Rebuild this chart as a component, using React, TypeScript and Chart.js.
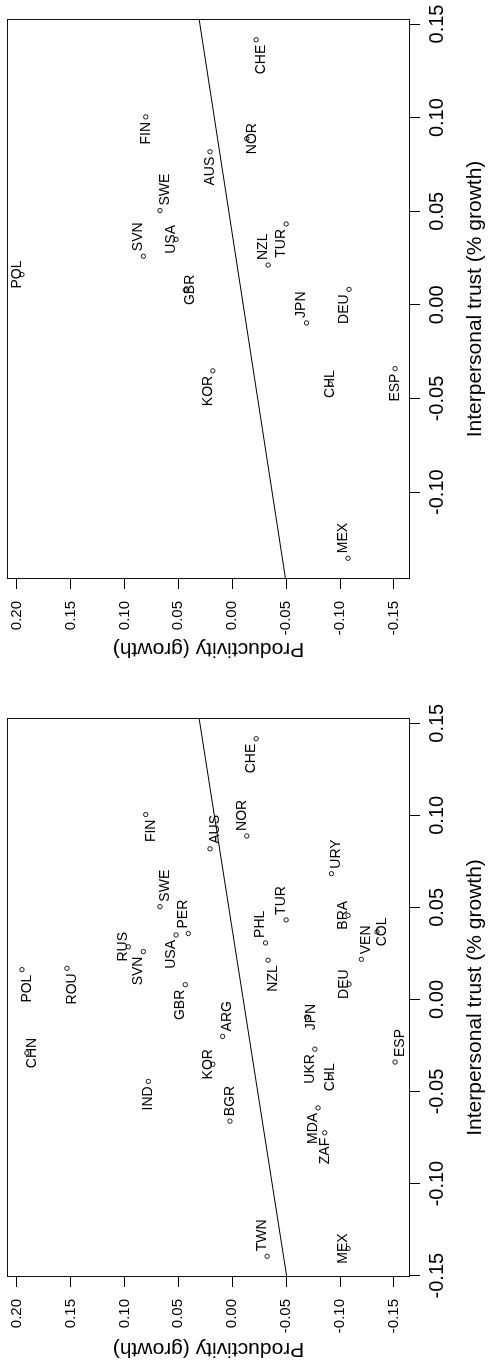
import React, { useEffect, useRef } from 'react';
import { Chart, registerables } from 'chart.js';

Chart.register(...registerables);

// ---- data ----
const countries = ['CHE','FIN','AUS','NOR','URY','SWE','PER','USA','RUS','SVN','PHL','TUR','BRA','VEN','COL','NZL','ROU','POL','CHN','GBR','ARG','KOR','IND','BGR','DEU','JPN','UKR','CHL','ESP','MDA','ZAF','TWN','MEX'];
const trustGrowth = [0.1416,0.1004,0.0818,0.0888,0.0683,0.0504,0.0358,0.0350,0.0286,0.0260,0.0307,0.0432,0.0457,0.0218,0.0367,0.0213,0.0169,0.0162,-0.0291,0.0080,-0.0201,-0.0352,-0.0445,-0.0661,0.0083,-0.0096,-0.0270,-0.0423,-0.0340,-0.0589,-0.0724,-0.1395,-0.1353];
const productivityGrowth = [-0.0222,0.0802,0.0206,-0.0135,-0.0920,0.0670,0.0407,0.0521,0.0963,0.0824,-0.0309,-0.0500,-0.1074,-0.1198,-0.1343,-0.0333,0.1533,0.1950,0.1904,0.0435,0.0089,0.0180,0.0778,0.0021,-0.1083,-0.0689,-0.0766,-0.0910,-0.1510,-0.0796,-0.0858,-0.0324,-0.1074];
const oecdCountries = ['CHE','FIN','AUS','NOR','SWE','USA','SVN','TUR','NZL','POL','GBR','KOR','DEU','JPN','CHL','ESP','MEX'];

// label side relative to point: [l|c|r][a|m|b]
const labelSideAll = ['la','lb','rb','ra','rb','rb','ra','la','ca','la','ra','ra','ca','rb','cb','lb','lb','lb','cb','la','rb','ca','lm','rm','ca','cb','la','cm','rb','la','lm','ra','ca'];
const labelSideOecd = ['lb','lm','lm','cb','rb','ca','ra','la','ra','ca','cb','la','la','ra','cm','lm','ra'];

const fitLine = [-0.0102, 0.268]; // intercept, slope
const tickStep = 0.05;

const xTitle = 'Interpersonal trust (% growth)';
const yTitle = 'Productivity (growth)';

const FONT = "'Liberation Sans', Arial, Helvetica, sans-serif";

function rRange(values: number[]): [number, number] {
  const lo = Math.min(...values);
  const hi = Math.max(...values);
  const e = (hi - lo) * 0.04;
  return [lo - e, hi + e];
}

const fmt = (v: any) => {
  const n = Number(v);
  return (Math.abs(n) < 1e-9 ? 0 : n).toFixed(2);
};

function makeChart(
  canvas: HTMLCanvasElement,
  names: string[],
  xs: number[],
  ys: number[],
  sides: string[],
  padRight: number,
  yAxisWidth: number
) {
  const [xmin, xmax] = rRange(xs);
  const [ymin, ymax] = rRange(productivityGrowth);
  const [a, b] = fitLine;

  const boxPlugin = {
    id: 'box',
    afterDatasetsDraw(chart: any) {
      const { left, right, top, bottom } = chart.chartArea;
      const ctx = chart.ctx;
      ctx.save();
      ctx.strokeStyle = '#111';
      ctx.lineWidth = 1;
      ctx.strokeRect(Math.round(left) + 0.5, Math.round(top) + 0.5, Math.round(right - left) - 1, Math.round(bottom - top) - 1);
      ctx.restore();
    },
  };

  const labelPlugin = {
    id: 'countryLabels',
    afterDatasetsDraw(chart: any) {
      const meta = chart.getDatasetMeta(1);
      const ctx = chart.ctx;
      ctx.save();
      ctx.font = `14px ${FONT}`;
      ctx.fillStyle = '#000';
      ctx.textBaseline = 'middle';
      ctx.textAlign = 'center';
      const gap = 5;
      const dv = 5;
      meta.data.forEach((pt: any, i: number) => {
        const label = names[i];
        const w = ctx.measureText(label).width;
        const code = sides[i] || 'cm';
        let cx = pt.x;
        let cy = pt.y;
        if (code[0] === 'l') cx -= w / 2 + gap;
        else if (code[0] === 'r') cx += w / 2 + gap;
        if (code[1] === 'a') cy -= dv;
        else if (code[1] === 'b') cy += dv;
        ctx.fillText(label, cx, cy);
      });
      ctx.restore();
    },
  };

  return new Chart(canvas, {
    type: 'scatter',
    data: {
      datasets: [
        {
          data: [
            { x: xmin, y: a + b * xmin },
            { x: xmax, y: a + b * xmax },
          ],
          showLine: true,
          borderColor: '#000',
          borderWidth: 1,
          pointRadius: 0,
          fill: false,
        } as any,
        {
          data: names.map((_, i) => ({ x: xs[i], y: ys[i] })),
          pointStyle: 'circle',
          pointRadius: 2.2,
          borderWidth: 0.9,
          borderColor: '#000',
          backgroundColor: 'rgba(0,0,0,0)',
        } as any,
      ],
    },
    options: {
      animation: false,
      responsive: false,
      events: [],
      layout: { padding: { left: 0, top: 7, right: padRight, bottom: 0 } },
      plugins: {
        legend: { display: false },
        tooltip: { enabled: false },
      },
      scales: {
        x: {
          type: 'linear',
          position: 'bottom',
          min: xmin,
          max: xmax,
          ticks: {
            stepSize: tickStep,
            includeBounds: false,
            autoSkip: false,
            maxRotation: 0,
            minRotation: 0,
            padding: 5,
            color: '#000',
            font: { family: FONT, size: 20 },
            callback: fmt,
          },
          grid: { drawOnChartArea: false, drawTicks: true, tickLength: 10, color: '#000', lineWidth: 1 },
          border: { display: false },
          title: {
            display: true,
            text: xTitle,
            color: '#000',
            font: { family: FONT, size: 21 },
            padding: { top: 0, bottom: 0 },
          },
          afterFit: (s: any) => {
            s.height = 78;
            s.paddingLeft = 0;
            s.paddingRight = 0;
          },
        } as any,
        y: {
          type: 'linear',
          position: 'left',
          min: ymin,
          max: ymax,
          ticks: {
            stepSize: tickStep,
            includeBounds: false,
            autoSkip: false,
            padding: 12,
            color: '#000',
            font: { family: FONT, size: 15 },
            callback: fmt,
          },
          grid: { drawOnChartArea: false, drawTicks: true, tickLength: 10, color: '#000', lineWidth: 1 },
          border: { display: false },
          title: {
            display: true,
            text: yTitle,
            color: '#000',
            font: { family: FONT, size: 21 },
            padding: { top: 4, bottom: 0 },
          },
          afterFit: (s: any) => {
            s.width = yAxisWidth;
            s.paddingTop = 0;
            s.paddingBottom = 0;
          },
        } as any,
      },
    },
    plugins: [boxPlugin, labelPlugin],
  });
}

export default function App() {
  const leftRef = useRef<HTMLCanvasElement>(null);
  const rightRef = useRef<HTMLCanvasElement>(null);

  useEffect(() => {
    document.body.style.margin = '0';
    document.documentElement.style.overflow = 'hidden';
    const charts: Chart[] = [];
    if (leftRef.current) {
      charts.push(
        makeChart(leftRef.current, countries, trustGrowth, productivityGrowth, labelSideAll, 53, 88)
      );
    }
    if (rightRef.current) {
      const idx = oecdCountries.map((c) => countries.indexOf(c));
      charts.push(
        makeChart(
          rightRef.current,
          oecdCountries,
          idx.map((i) => trustGrowth[i]),
          idx.map((i) => productivityGrowth[i]),
          labelSideOecd,
          19,
          86
        )
      );
    }
    return () => charts.forEach((c) => c.destroy());
  }, []);

  return (
    <div
      style={{
        position: 'absolute',
        left: 0,
        top: 0,
        width: 1365,
        height: 488,
        background: '#fff',
        transformOrigin: '0 0',
        transform: 'translateY(1365px) rotate(-90deg)',
      }}
    >
      <canvas
        ref={leftRef}
        width={700}
        height={488}
        style={{ position: 'absolute', left: 0, top: 0, width: 700, height: 488 }}
      />
      <canvas
        ref={rightRef}
        width={665}
        height={488}
        style={{ position: 'absolute', left: 700, top: 0, width: 665, height: 488 }}
      />
    </div>
  );
}
